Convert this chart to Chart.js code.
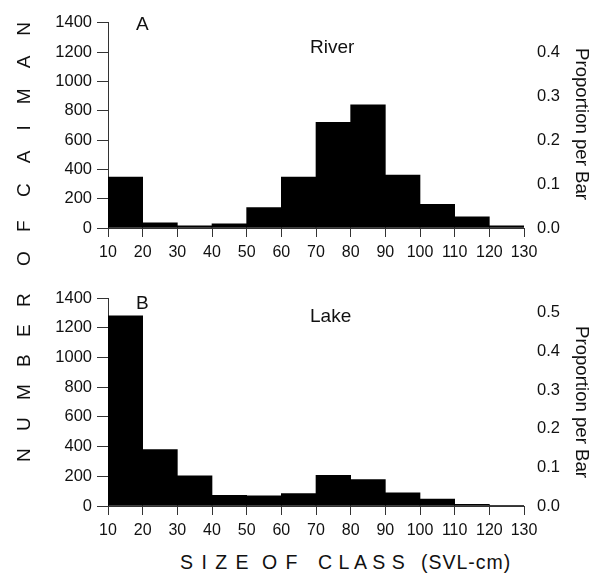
<!DOCTYPE html>
<html><head><meta charset="utf-8">
<script src="https://cdn.jsdelivr.net/npm/chart.js@4/dist/chart.umd.min.js"></script>
<style>
html,body{margin:0;padding:0;background:#fff;}
#wrap{position:relative;width:603px;height:574px;overflow:hidden;font-family:"Liberation Sans",Arial,Helvetica,sans-serif;color:#111;}
canvas{position:absolute;left:0;}
.t{position:absolute;line-height:1;white-space:pre;}
.rt{position:absolute;line-height:1;white-space:pre;font-size:18.6px;transform:translate(-50%,-50%) rotate(90deg);}
</style></head><body>
<div id="wrap">
<canvas id="c1" width="603" height="270" style="top:0;width:603px;height:270px"></canvas>
<canvas id="c2" width="603" height="280" style="top:270px;width:603px;height:280px"></canvas>
<div class="t" style="left:136px;top:14.2px;font-size:19px">A</div>
<div class="t" style="left:310px;top:36.5px;font-size:19px">River</div>
<div class="t" style="left:136px;top:292.5px;font-size:19px">B</div>
<div class="t" style="left:310px;top:305.8px;font-size:19px">Lake</div>
<div class="rt" style="left:582px;top:124px">Proportion per Bar</div>
<div class="rt" style="left:582px;top:402px">Proportion per Bar</div>
<div style="position:absolute;left:0;top:0;width:470px;height:24px;transform-origin:0 0;transform:translate(14px,470px) rotate(-90deg);font-size:19px;line-height:1;">
  <span class="t" style="left:8px;top:0;letter-spacing:6px">N U M B E R</span>
  <span class="t" style="left:204px;top:0;letter-spacing:7px">O F</span>
  <span class="t" style="left:273px;top:0;letter-spacing:7.9px">C A I M A N</span>
</div>
<div class="t" style="left:180px;top:552.6px;font-size:19.5px;letter-spacing:1.5px">S I Z E</div>
<div class="t" style="left:262px;top:552.6px;font-size:19.5px;letter-spacing:1.5px">O F</div>
<div class="t" style="left:318px;top:552.6px;font-size:19.5px;letter-spacing:0.5px">C L A S S</div>
<div class="t" style="left:421px;top:552.6px;font-size:19.5px;letter-spacing:1px">(SVL-cm)</div>
</div>
<script>
// Size classes (SVL, cm): lower edge of each 10-cm bin
const binStarts = [10, 20, 30, 40, 50, 60, 70, 80, 90, 100, 110, 120];
const binWidth = 10;
// Number of caiman per size class
const riverCounts = [348, 35, 15, 28, 140, 348, 722, 840, 362, 162, 77, 15];
const lakeCounts  = [1280, 380, 203, 72, 68, 84, 207, 178, 88, 47, 11, 3];
// Totals implied by the "Proportion per Bar" axes
const riverTotal = 3000;
const lakeTotal = 2600;
// Axis ranges / ticks
const xRange = [10, 130];
const xStep = 10;
const countMax = 1400;
const countStep = 200;
const propStep = 0.1;

const FONT = '"Liberation Sans", Arial, Helvetica, sans-serif';
const AX = '#333';
const TXT = '#111';

function makeChart(id, counts, total, topPad, xHeight) {
  const ctx = document.getElementById(id);
  return new Chart(ctx, {
    type: 'bar',
    data: {
      datasets: [{
        data: binStarts.map((s, i) => ({ x: s + binWidth / 2, y: counts[i] })),
        backgroundColor: '#000',
        borderWidth: 0,
        barPercentage: 1,
        categoryPercentage: 1,
        xAxisID: 'x',
        yAxisID: 'y'
      }]
    },
    options: {
      responsive: false,
      animation: false,
      devicePixelRatio: 1,
      layout: { padding: { top: topPad, left: 0, right: 0, bottom: 0 } },
      plugins: { legend: { display: false }, tooltip: { enabled: false } },
      scales: {
        x: {
          type: 'linear', min: xRange[0], max: xRange[1], offset: false,
          ticks: { stepSize: xStep, autoSkip: false, maxRotation: 0, padding: 6, color: TXT,
                   font: { family: FONT, size: 16 }, callback: v => String(v) },
          grid: { drawOnChartArea: false, offset: false, tickLength: 9, color: AX, lineWidth: 1 },
          border: { color: AX, width: 1 },
          afterFit: s => { s.height = xHeight; }
        },
        y: {
          position: 'left', min: 0, max: countMax,
          ticks: { stepSize: countStep, padding: 5, color: TXT,
                   font: { family: FONT, size: 16.5 }, callback: v => String(v) },
          grid: { drawOnChartArea: false, tickLength: 11, color: AX, lineWidth: 1 },
          border: { color: AX, width: 1 },
          afterFit: s => { s.width = 108; }
        },
        y2: {
          position: 'right', min: 0, max: countMax / total,
          ticks: { stepSize: propStep, includeBounds: false, padding: 13, color: TXT,
                   font: { family: FONT, size: 16.5 }, callback: v => Number(v).toFixed(1) },
          grid: { display: false, drawTicks: false, drawOnChartArea: false },
          border: { display: false },
          afterFit: s => { s.width = 79; }
        }
      }
    }
  });
}

makeChart('c1', riverCounts, riverTotal, 18, 42);
makeChart('c2', lakeCounts, lakeTotal, 28, 44);
</script>
</body></html>
